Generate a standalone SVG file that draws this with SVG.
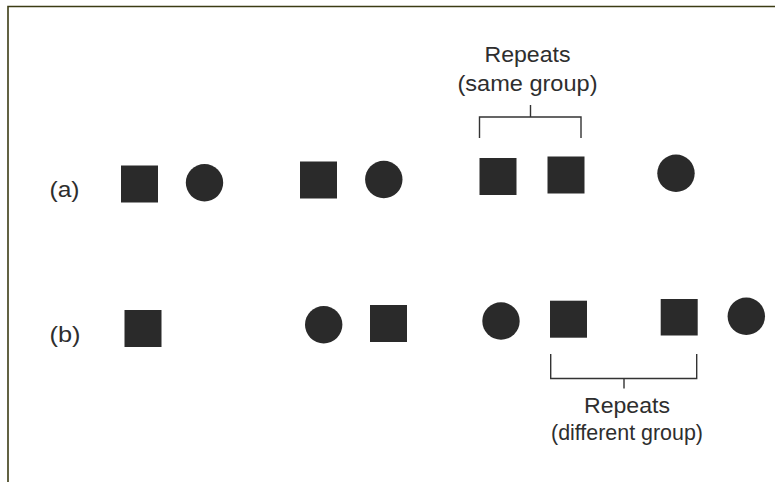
<svg xmlns="http://www.w3.org/2000/svg" width="775" height="482" viewBox="0 0 775 482">
  <style>
    .sq { fill: #2a2a2a; }
    .dot { fill: #2a2a2a; }
    .lbl { font-family: "Liberation Sans", Arial, sans-serif; font-size: 22px; fill: #2e2e2e; }
    .mid { text-anchor: middle; }
    .brk { fill: none; stroke: #333333; stroke-width: 1.4; }
    .frame { fill: none; stroke: #3c3c14; stroke-width: 1.6; }
  </style>

  <rect x="0" y="0" width="775" height="482" fill="#ffffff"/>
  <!-- page frame: top and left edges -->
  <path class="frame" d="M8,482 V6.5 H775"/>

  <!-- row labels -->
  <text class="lbl" x="49.5" y="197" textLength="30" lengthAdjust="spacingAndGlyphs">(a)</text>
  <text class="lbl" x="49.5" y="342" textLength="31" lengthAdjust="spacingAndGlyphs">(b)</text>

  <!-- row (a) -->
  <g id="a1"><rect class="sq" x="121" y="165.5" width="37" height="37"/></g>
  <g id="a2"><circle class="dot" cx="204.5" cy="182.7" r="18.7"/></g>
  <g id="a3"><rect class="sq" x="300" y="161.5" width="37" height="37"/></g>
  <g id="a4"><circle class="dot" cx="383.8" cy="179.5" r="18.7"/></g>
  <g id="a5"><rect class="sq" x="479.5" y="158" width="37" height="37"/></g>
  <g id="a6"><rect class="sq" x="547.5" y="156.5" width="37" height="37"/></g>
  <g id="a7"><circle class="dot" cx="676" cy="173.3" r="18.7"/></g>

  <!-- row (b) -->
  <g id="b1"><rect class="sq" x="124.5" y="310" width="37" height="37"/></g>
  <g id="b2"><circle class="dot" cx="323.7" cy="324.7" r="18.7"/></g>
  <g id="b3"><rect class="sq" x="370" y="305" width="37" height="37"/></g>
  <g id="b4"><circle class="dot" cx="501" cy="321" r="18.7"/></g>
  <g id="b5"><rect class="sq" x="550" y="300.7" width="37" height="37"/></g>
  <g id="b6"><rect class="sq" x="660.7" y="299" width="37" height="36.5"/></g>
  <g id="b7"><circle class="dot" cx="746.3" cy="316.3" r="18.7"/></g>

  <!-- brackets -->
  <g id="connectors">
    <path class="brk" d="M479.5,138 V117 H581 V138 M530.5,117 V105"/>
    <path class="brk" d="M550.7,354 V378.5 H696.7 V354 M624,378.5 V388.5"/>
  </g>

  <!-- bracket captions -->
  <g id="same-group-label">
    <text class="lbl mid" x="527.5" y="62" textLength="86" lengthAdjust="spacingAndGlyphs">Repeats</text>
    <text class="lbl mid" x="527.5" y="91" textLength="140" lengthAdjust="spacingAndGlyphs">(same group)</text>
  </g>
  <g id="different-group-label">
    <text class="lbl mid" x="627" y="413" textLength="86" lengthAdjust="spacingAndGlyphs">Repeats</text>
    <text class="lbl mid" x="627" y="440" textLength="152" lengthAdjust="spacingAndGlyphs">(different group)</text>
  </g>
</svg>
